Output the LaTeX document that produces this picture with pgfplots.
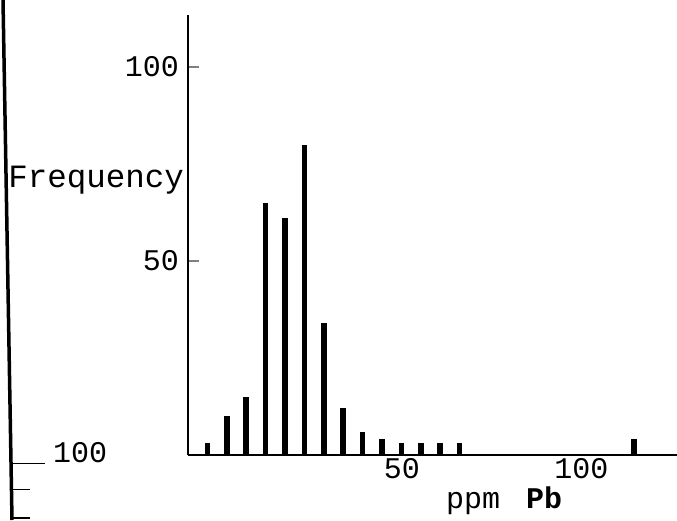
\documentclass[border=0pt]{standalone}
\usepackage{fontspec}
\setmainfont{Liberation Mono}
\usepackage{pgfplots}
\pgfplotsset{compat=1.18}

% frequency of samples per 5 ppm class
\pgfplotstableread{
ppm freq
5    3
10  10
15  15
20  65
25  61
30  80
35  34
40  12
45   6
50   4
55   3
60   3
65   3
70   3
115  4
}\pbdata

\begin{document}
\begin{tikzpicture}[x=1pt,y=1pt]
\useasboundingbox (0,0) rectangle (677,520);
% margin of the neighbouring chart on the scanned page
\draw[line width=3.5pt] (3,520) -- (12,0);
\draw[line width=1.2pt] (12,56.7) -- (45,56.7);
\draw[line width=1.2pt] (12,30.7) -- (30,30.7);
\draw[line width=1.2pt] (12,2) -- (30,2);
\node[anchor=west, inner sep=0pt, font=\fontsize{30}{34}\selectfont] at (53,67) {100};

\begin{axis}[
    at={(188pt,65pt)}, anchor=origin,
    x=3.88pt, y=3.88pt,
    xmin=0, xmax=130, ymin=0, ymax=113.5,
    axis x line=bottom, axis y line=left,
    axis line style={-, line width=1.2pt},
    ytick={50,100},
    xtick={55.1,101.4}, xticklabels={50,100},
    xtick style={draw=none},
    ytick style={line width=1.2pt},
    tick align=inside, major tick length=11pt,
    tick label style={font=\fontsize{30}{34}\selectfont, inner sep=0pt},
    xticklabel style={anchor=north, yshift=-3pt},
    yticklabel style={anchor=east, xshift=-9pt},
    /pgf/number format/assume math mode=true,
    clip=false,
]
\addplot[ycomb, line width=5.5pt, black, mark=none] table[x=ppm, y=freq] {\pbdata};
\end{axis}

\node[anchor=base east, inner sep=0pt, font=\fontsize{32.5}{36}\selectfont] at (184,332) {Frequency};
\node[anchor=base west, inner sep=0pt, font=\fontsize{30}{34}\selectfont] at (446,12) {ppm};
\node[anchor=base west, inner sep=0pt, font=\fontsize{30}{34}\selectfont\bfseries] at (526,12) {Pb};
\end{tikzpicture}
\end{document}
